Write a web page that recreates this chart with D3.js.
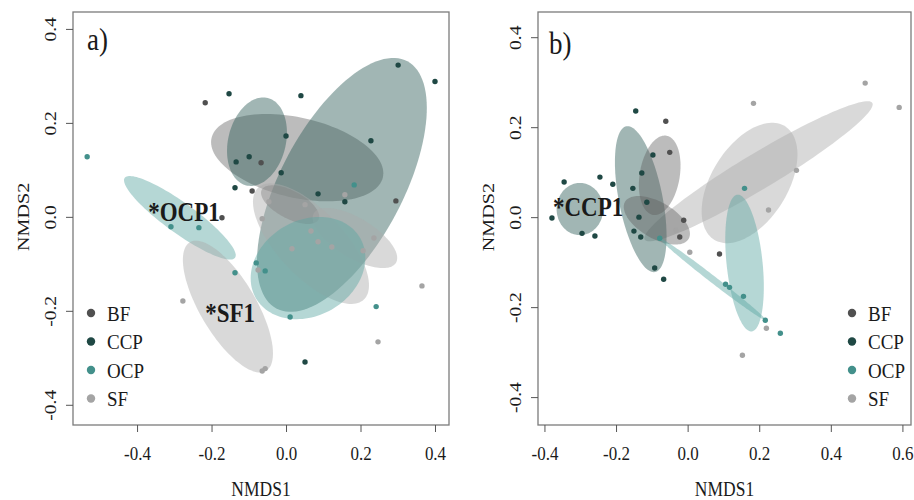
<!DOCTYPE html>
<html>
<head>
<meta charset="utf-8">
<script src="https://cdn.jsdelivr.net/npm/d3@7/dist/d3.min.js"></script>
<style>
	body { margin: 0; background: #fff; }
	.tick line { stroke: #555; }
</style>
</head>
<body>
<svg id="chart" width="914" height="500"></svg>
<script>
// groups / legend
var groups = ['BF', 'CCP', 'OCP', 'SF'];

// panel a) site scores, [NMDS1, NMDS2]
var bfA = [[-0.217, 0.243], [-0.067, 0.115], [-0.091, 0.055], [-0.172, -0.002], [0.295, 0.034]];
var ccpA = [[-0.153, 0.262], [0.040, 0.258], [0.301, 0.323], [0.400, 0.288], [0.000, 0.172], [0.228, 0.162],
	[-0.134, 0.117], [-0.099, 0.128], [-0.013, 0.094], [-0.137, 0.062], [0.086, 0.049], [0.158, 0.032], [0.051, -0.309]];
var ocpA = [[-0.534, 0.128], [0.183, 0.068], [-0.309, -0.021], [-0.234, -0.023], [-0.137, -0.119], [-0.080, -0.098],
	[-0.056, -0.115], [0.011, -0.213], [0.242, -0.191]];
var sfA = [[0.158, 0.047], [-0.046, 0.032], [0.051, 0.026], [-0.064, -0.004], [0.067, -0.030], [0.086, -0.053],
	[0.016, -0.068], [0.123, -0.064], [0.236, -0.045], [0.207, -0.072], [-0.075, -0.113], [-0.277, -0.179],
	[0.365, -0.147], [0.247, -0.266], [-0.064, -0.328], [-0.056, -0.323]];

// panel b)
var bfB = [[-0.061, 0.213], [-0.050, 0.144], [-0.011, -0.007], [-0.022, -0.044], [0.089, -0.082]];
var ccpB = [[-0.145, 0.236], [-0.097, 0.138], [-0.128, 0.098], [-0.153, 0.064], [-0.114, 0.033], [-0.136, 0.000],
	[-0.150, -0.031], [-0.131, -0.044], [-0.092, -0.113], [-0.067, -0.138], [-0.345, 0.078], [-0.245, 0.089],
	[-0.209, 0.073], [-0.379, -0.002], [-0.295, -0.036], [-0.259, -0.042]];
var ocpB = [[-0.078, -0.047], [0.159, 0.064], [0.106, -0.149], [0.117, -0.156], [0.156, -0.176], [0.217, -0.229], [0.259, -0.258]];
var sfB = [[-0.033, -0.029], [0.006, -0.078], [0.184, 0.253], [0.496, 0.298], [0.591, 0.244], [0.304, 0.104],
	[0.226, 0.016], [0.220, -0.247], [0.153, -0.307]];

// ellipses: group, centre, two conjugate semi-axis vectors (all NMDS units)
var ellipsesA = [
	['BF', 0.030, 0.126, 0.230, -0.042, -0.024, -0.083],
	['CCP', 0.150, 0.068, 0.176, 0.263, 0.145, -0.062],
	['CCP', -0.078, 0.160, 0.029, 0.093, 0.075, -0.015],
	['BF', 0.011, 0.026, 0.076, -0.032, -0.018, -0.026],
	['SF', 0.067, -0.057, 0.142, -0.119, -0.064, -0.048],
	['SF', 0.185, -0.045, 0.110, -0.053, -0.028, -0.036],
	['OCP', 0.059, -0.109, 0.140, 0.064, 0.064, -0.088],
	['OCP', -0.285, -0.002, 0.148, -0.085, -0.024, -0.026],
	['SF', -0.156, -0.191, 0.102, -0.137, -0.065, -0.030]
];
var ellipsesB = [
	['SF', 0.198, 0.102, 0.318, 0.152, 0.026, -0.034],
	['SF', 0.173, 0.076, 0.099, 0.126, 0.090, -0.045],
	['CCP', -0.301, 0.018, 0.065, 0.000, 0.000, -0.058],
	['CCP', -0.131, 0.040, 0.040, -0.162, -0.060, -0.009],
	['BF', -0.078, 0.093, 0.019, 0.088, 0.055, -0.008],
	['BF', -0.086, -0.007, 0.089, -0.041, -0.025, -0.035],
	['OCP', 0.159, -0.102, 0.020, -0.152, -0.050, -0.004],
	['OCP', 0.070, -0.138, 0.148, -0.091, -0.006, -0.006]
];

var xTicksA = [-0.4, -0.2, 0, 0.2, 0.4],
	xTicksB = [-0.4, -0.2, 0, 0.2, 0.4, 0.6],
	yTicks = [-0.4, -0.2, 0, 0.2, 0.4];

var pointColor = {BF: '#505050', CCP: '#1f4844', OCP: '#43908b', SF: '#a4a4a4'},
	fillColor = {BF: '#606060', CCP: '#2f5d59', OCP: '#5ba6a2', SF: '#aaaaaa'},
	fillOpacity = {BF: 0.42, CCP: 0.45, OCP: 0.45, SF: 0.45};

var serif = '"Liberation Serif", "Times New Roman", serif',
	stretch = 1.15; // the source figure is a bit taller than wide
var svg = d3.select('svg#chart');
var fmt = function(d) { return d.toFixed(1); };

function ellipsePath(e, x, y) {
	var pts = d3.range(0, 360, 3).map(function(t) {
		var r = t * Math.PI / 180;
		return [x(e[1] + e[3] * Math.cos(r) + e[5] * Math.sin(r)), y(e[2] + e[4] * Math.cos(r) + e[6] * Math.sin(r))];
	});
	return d3.line().curve(d3.curveLinearClosed)(pts);
}

function style(sel, size) {
	return sel.style('font-family', serif).style('font-size', size + 'px').style('fill', '#1a1a1a');
}

// text placed with a transform so it can be stretched
function txt(parent, x, y, size, rot) {
	return style(parent.append('text'), size)
		.attr('transform', 'translate(' + x + ',' + y + ') scale(1,' + stretch + ')' + (rot ? ' rotate(' + rot + ')' : ''));
}

function makePanel(cfg) {
	var box = cfg.box,
		g = svg.append('g');

	var x = d3.scaleLinear().domain(cfg.xDomain).range([box.left, box.right]),
		y = d3.scaleLinear().domain(cfg.yDomain).range([box.bottom, box.top]);

	// ellipses
	g.append('g').selectAll('path')
		.data(cfg.ellipses)
		.enter().append('path')
		.attr('d', function(d) { return ellipsePath(d, x, y); })
		.attr('fill', function(d) { return fillColor[d[0]]; })
		.attr('fill-opacity', function(d) { return fillOpacity[d[0]]; })
		.attr('stroke', 'none');

	// points
	groups.forEach(function(grp) {
		g.append('g').selectAll('circle')
			.data(cfg.points[grp])
			.enter().append('circle')
			.attr('cx', function(d) { return x(d[0]); })
			.attr('cy', function(d) { return y(d[1]); })
			.attr('r', 2.7)
			.attr('fill', pointColor[grp]);
	});

	// frame
	g.append('rect')
		.attr('x', box.left).attr('y', box.top)
		.attr('width', box.right - box.left).attr('height', box.bottom - box.top)
		.attr('fill', 'none').attr('stroke', '#7b7b7b').attr('stroke-width', 1.3);

	// x axis
	var xa = g.append('g')
		.attr('transform', 'translate(0,' + box.bottom + ')')
		.call(d3.axisBottom(x).tickValues(cfg.xTicks).tickFormat(fmt).tickSize(7));
	xa.select('.domain').remove();
	style(xa.selectAll('text'), 17)
		.attr('y', 0).attr('dy', '0.35em')
		.attr('transform', 'translate(0,28) scale(1,' + stretch + ')');

	// y axis, labels turned like R's default
	var ya = g.append('g')
		.attr('transform', 'translate(' + box.left + ',0)')
		.call(d3.axisLeft(y).tickValues(yTicks).tickFormat(fmt).tickSize(7));
	ya.select('.domain').remove();
	style(ya.selectAll('text'), 17)
		.attr('transform', 'scale(1,' + stretch + ') rotate(-90)')
		.attr('x', 0).attr('y', -23).attr('dy', '0.35em')
		.attr('text-anchor', 'middle');

	// axis titles
	txt(g, (box.left + box.right) / 2, 489, 17.5)
		.attr('dy', '0.35em').attr('text-anchor', 'middle')
		.text('NMDS1');
	txt(g, box.left - 50, y(0), 17.5, -90)
		.attr('dy', '0.35em').attr('text-anchor', 'middle')
		.text('NMDS2');

	// panel tag
	txt(g, box.left + cfg.tag.dx, box.top + cfg.tag.dy, 27)
		.text(cfg.tag.text);

	// starred labels
	cfg.notes.forEach(function(n) {
		txt(g, x(n[1]), y(n[2]), 23)
			.style('font-weight', 'bold')
			.text(n[0]);
	});

	// legend
	var leg = g.append('g')
		.attr('transform', 'translate(' + cfg.legend[0] + ',' + cfg.legend[1] + ')');
	groups.forEach(function(grp, i) {
		leg.append('circle')
			.attr('cx', 0).attr('cy', i * 28.5)
			.attr('r', 4.2)
			.attr('fill', pointColor[grp]);
		txt(leg, 16, i * 28.5, 19)
			.attr('dy', '0.36em')
			.text(grp);
	});
}

makePanel({
	box: {left: 73, right: 449, top: 12, bottom: 425},
	xDomain: [-0.572, 0.4376],
	yDomain: [-0.443, 0.436],
	xTicks: xTicksA,
	ellipses: ellipsesA,
	points: {BF: bfA, CCP: ccpA, OCP: ocpA, SF: sfA},
	tag: {text: 'a)', dx: 14, dy: 38},
	notes: [['*OCP1', -0.370, -0.009], ['*SF1', -0.217, -0.223]],
	legend: [91, 313]
});

makePanel({
	box: {left: 538, right: 911, top: 12, bottom: 425},
	xDomain: [-0.418, 0.624],
	yDomain: [-0.462, 0.456],
	xTicks: xTicksB,
	ellipses: ellipsesB,
	points: {BF: bfB, CCP: ccpB, OCP: ocpB, SF: sfB},
	tag: {text: 'b)', dx: 11, dy: 42},
	notes: [['*CCP1', -0.376, 0.002]],
	legend: [852, 313]
});
</script>
</body>
</html>
